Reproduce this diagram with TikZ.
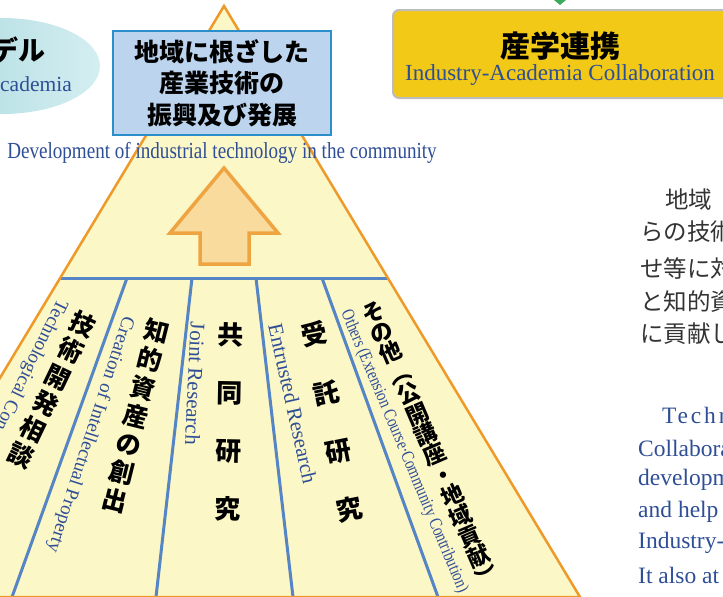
\documentclass[tikz,border=0pt]{standalone}
\usepackage{fontspec}
\setmainfont{Liberation Serif}
\newfontfamily\jpfont{Noto Sans CJK JP}

\definecolor{pyramid}{HTML}{FCF7C6}
\definecolor{edgeorange}{HTML}{EE9A2A}
\definecolor{divblue}{HTML}{5585C5}
\definecolor{boxblue}{HTML}{BCD4EE}
\definecolor{boxedge}{HTML}{2A8FCB}
\definecolor{arrowfill}{HTML}{FADB9E}
\definecolor{arroworange}{HTML}{EEA441}
\definecolor{gold}{HTML}{F2C916}
\definecolor{boxgray}{HTML}{BDBDBD}
\definecolor{engblue}{HTML}{2E4E96}
\definecolor{tealdark}{HTML}{A8D8DD}
\definecolor{teallight}{HTML}{D4EEF1}
\definecolor{inkgray}{HTML}{333333}
\definecolor{tipgreen}{HTML}{3BAA5C}

\tikzset{
  jpbold/.style 2 args={font=\jpfont\bfseries\fontsize{#1}{#2}\selectfont, text=black, inner sep=0pt, align=center},
  engtext/.style={font=\fontsize{#1}{#1}\selectfont, text=engblue, inner sep=0pt},
  divider/.style={draw=divblue, line width=3pt},
}

\begin{document}
\begin{tikzpicture}[x=1pt,y=-1pt]
\useasboundingbox (0,0) rectangle (723,597);
\clip (0,0) rectangle (723,597);

% model bubble (cut off on the left)
\shade[left color=tealdark, right color=teallight] (2,66) ellipse [x radius=98pt, y radius=48pt];
\node[jpbold={27}{27}, anchor=east] (modelJ) at (46,50) {デル};
\node[engtext=21.5, anchor=west] (modelE) at (0,84) {cademia};

% pyramid, its band line and the pillar dividers
\fill[pyramid] (224,6) -- (580,597) -- (-132,597) -- cycle;
\draw[divider] (60,278) -- (388,278);
\foreach \t/\b in {127/12, 192/156, 256/293, 322/438}
  \draw[divider] (\t,278) -- (\b,597);
\draw[edgeorange, line width=2.5pt] (224,6) -- (580,597) -- (-132,597) -- cycle;

% arrow up to the goal
\draw[fill=arrowfill, draw=arroworange, line width=3.5pt] (224,168) -- (278,233) -- (249,233) -- (249,264)
  -- (200,264) -- (200,233) -- (170,233) -- cycle;

% goal on top
\node[jpbold={25}{31.5}, draw=boxedge, fill=boxblue, line width=2.5pt, minimum width=218pt, minimum height=104pt] (goal) at (222,83)
  {地域に根ざした\\産業技術の\\振興及び発展};
\node[engtext=23] (goalE) at (222,153) {\scalebox{0.83}[1]{Development of industrial technology in the community}};

% collaboration box (right)
\node[draw=boxgray, fill=gold, line width=2pt, rounded corners=6pt, minimum width=360pt, minimum height=88pt, anchor=north west] (collab) at (392,9) {};
\node[jpbold={30}{30}] (collabJ) at (560,46) {産学連携};
\node[engtext=23] (collabE) at (560,75) {Industry-Academia Collaboration};
\fill[tipgreen] (554,0) -- (566,0) -- (560,5) -- cycle;

% pillars, left to right
\node[jpbold={25}{29}, rotate=-25.6] (p1J) at (52,390) {技\\術\\開\\発\\相\\談};
\node[engtext=19, anchor=west, rotate=-116] (p1E) at (62,300) {Technological Con};
\node[jpbold={25}{29}, rotate=-14] (p2J) at (136,416) {知\\的\\資\\産\\の\\創\\出};
\node[engtext=19, anchor=west, rotate=-107.9] (p2E) at (128,317) {Creation of Intellectual Property};
\node[jpbold={26}{58}, rotate=-1] (p3J) at (229,422) {共\\同\\研\\究};
\node[engtext=21, anchor=west, rotate=-92.7] (p3E) at (198,322) {Joint Research};
\node[jpbold={26}{59.5}, rotate=11.3] (p4J) at (332,422) {受\\託\\研\\究};
\node[engtext=21, anchor=west, rotate=-77.4] (p4E) at (275,324) {Entrusted Research};
\node[jpbold={22.5}{22.2}, rotate=23.3] (p5J) at (430,444) {そ\\の\\他\\︵\\公\\開\\講\\座\\・\\地\\域\\貢\\献\\︶};
\node[engtext=18, anchor=west, rotate=-67.2] (p5E) at (345,311) {\scalebox{0.8}[1]{Others (Extension Course·Community Contribution)}};

% text on the right (cut off)
\foreach \x/\y/\s [count=\i] in {665/200/地域, 640/232/らの技術, 640/268/せ等に対, 640/302/と知的資, 640/334/に貢献し}
  \node[font=\jpfont\fontsize{23.5}{23.5}\selectfont, text=inkgray, anchor=west, inner sep=0pt] (para\i) at (\x,\y) {\s};
\node[engtext=23.5, anchor=west] (eng0) at (662,415) {\addfontfeature{LetterSpace=12}Techn};
\foreach \y/\s [count=\i] in {448/Collabora, 480/developm, 512/and help, 543/Industry-, 575/It also at}
  \node[engtext=23.5, anchor=west] (eng\i) at (638,\y) {\s};
\end{tikzpicture}
\end{document}
